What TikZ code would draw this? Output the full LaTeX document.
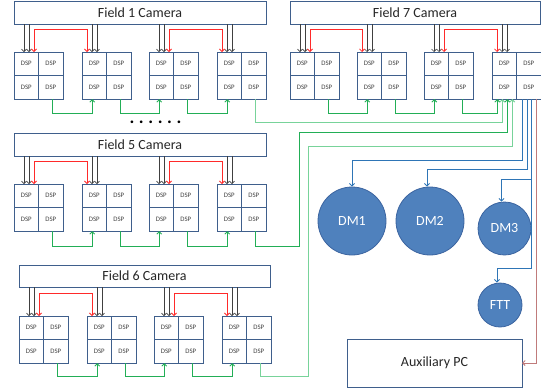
\documentclass[tikz,border=0pt]{standalone}
\usepackage{fontspec}
\setmainfont{Carlito}
\usetikzlibrary{arrows.meta,calc}
\definecolor{cellblue}{HTML}{3F5F8C}
\definecolor{dsptext}{HTML}{404040}
\definecolor{redl}{HTML}{FF2A2A}
\definecolor{greenl}{HTML}{22AE56}
\definecolor{lgreenl}{HTML}{78D39A}
\definecolor{bluel}{HTML}{2E75B6}
\definecolor{brownl}{HTML}{C07B7B}
\definecolor{dmfill}{HTML}{4F81BD}
\definecolor{dmdraw}{HTML}{3B64A0}
\definecolor{blkl}{HTML}{404040}
\newcommand\dspgrp[3]{%
 \node[dsp,anchor=north west] (#1-1) at (#2,#3) {DSP};
 \node[dsp,anchor=north west] (#1-2) at (#2+24.5,#3) {DSP};
 \node[dsp,anchor=north west] (#1-3) at (#2,#3+23.5) {DSP};
 \node[dsp,anchor=north west] (#1-4) at (#2+24.5,#3+23.5) {DSP};
}
\newcommand\camarr[2]{%
 \coordinate (#2-k1) at ([xshift=10pt]#2-1.north west);
 \coordinate (#2-k2) at ([xshift=15pt]#2-1.north west);
 \draw[tip,blkline] (#1.south -| #2-k1) -- (#2-k1);
 \draw[tip,blkline] (#1.south -| #2-k2) -- (#2-k2);
}
\newcommand\redlink[2]{%
 \coordinate (#1-r) at ([xshift=20pt]#1-1.north west);
 \coordinate (#2-r) at ([xshift=5pt]#2-1.north west);
 \draw[redline] (#1-r) -- ([yshift=23pt]#1-r) -| (#2-r);
}
\newcommand\glink[4]{%
 \draw[tip,#4] ([xshift=2pt]#1-4.south) -- ++(0,#3) -| ([xshift=-2pt]#2-3.south);
}
\begin{document}
\begin{tikzpicture}[x=1pt,y=-1pt,
 tip/.style={-{Straight Barb[length=2.5pt,width=5pt]}},
 dsp/.style={draw=cellblue,line width=1pt,minimum width=24.5pt,minimum height=23.5pt,inner sep=0pt,outer sep=0pt,font=\fontsize{6.8}{7}\selectfont,text=dsptext},
 cam/.style={draw=cellblue,line width=0.9pt,fill=white,inner sep=0pt,outer sep=0pt,minimum height=23pt,font=\fontsize{14}{16}\selectfont,text=black!85,anchor=north west},
 blkline/.style={draw=blkl,line width=0.7pt},
 redline/.style={{Straight Barb[length=2.5pt,width=5pt]}-{Straight Barb[length=2.5pt,width=5pt]},draw=redl,line width=0.8pt},
 gline/.style={draw=greenl,line width=0.9pt},
 lgline/.style={draw=lgreenl,line width=0.9pt},
 bline/.style={draw=bluel,line width=0.9pt},
 brline/.style={draw=brownl,line width=1pt},
 dm/.style={circle,fill=dmfill,draw=dmdraw,line width=0.8pt,inner sep=0pt,text=white,font=\fontsize{14}{16}\selectfont},
 ]
\useasboundingbox (0,0) rectangle (541,389);
% cameras
\node[cam,minimum width=252pt] (F1) at (14,1) {Field 1 Camera};
\node[cam,minimum width=250pt] (F7) at (290,1) {Field 7 Camera};
\node[cam,minimum width=252pt] (F5) at (14,133) {Field 5 Camera};
\node[cam,minimum width=251pt,minimum height=22pt] (F6) at (19,265) {Field 6 Camera};
% DSP groups
\dspgrp{a1}{14}{52}\dspgrp{a2}{82}{52}\dspgrp{a3}{149}{52}\dspgrp{a4}{217}{52}
\dspgrp{b1}{290}{52}\dspgrp{b2}{357}{52}\dspgrp{b3}{424}{52}\dspgrp{b4}{492}{52}
\dspgrp{c1}{14}{184}\dspgrp{c2}{82}{184}\dspgrp{c3}{149}{184}\dspgrp{c4}{217}{184}
\dspgrp{d1}{19}{316}\dspgrp{d2}{87}{316}\dspgrp{d3}{154}{316}\dspgrp{d4}{222}{316}
% camera arrows
\foreach \g in {a1,a2,a3,a4}{\camarr{F1}{\g}}
\foreach \g in {b1,b2,b3,b4}{\camarr{F7}{\g}}
\foreach \g in {c1,c2,c3,c4}{\camarr{F5}{\g}}
\foreach \g in {d1,d2,d3,d4}{\camarr{F6}{\g}}
% red links
\redlink{a1}{a2}\redlink{a3}{a4}
\redlink{b1}{b2}\redlink{b3}{b4}
\redlink{c1}{c2}\redlink{c3}{c4}
\redlink{d1}{d2}\redlink{d3}{d4}
% green links
\glink{a1}{a2}{14}{gline}\glink{a2}{a3}{14}{gline}\glink{a3}{a4}{14}{gline}
\glink{b1}{b2}{14}{gline}\glink{b2}{b3}{14}{gline}
\draw[tip,gline] ([xshift=2pt]b3-4.south) -- ++(0,14) -| ([xshift=-7pt]b4-3.south);
\glink{c1}{c2}{15}{gline}\glink{c2}{c3}{15}{gline}\glink{c3}{c4}{15}{gline}
\glink{d1}{d2}{13}{gline}\glink{d2}{d3}{13}{gline}\glink{d3}{d4}{13}{gline}
\draw[tip,lgline] ([xshift=2pt]a4-4.south) -- ++(0,23) -| ([xshift=-2pt]b4-3.south);
\coordinate (bend5) at (299,132);
\coordinate (bend6) at (308,146);
\draw[tip,gline] ([xshift=2pt]c4-4.south) -- ++(0,15) -| (bend5) -| ([xshift=3pt]b4-3.south);
\draw[tip,lgline] ([xshift=2pt]d4-4.south) -- ++(0,13) -| (bend6) -| ([xshift=8pt]b4-3.south);
% dots
\node[font=\fontsize{18}{18}\selectfont\bfseries,inner sep=0pt] (dots) at (155.5,122.5) {.\kern4.6pt.\kern4.6pt.\kern4.6pt.\kern4.6pt.\kern4.6pt.};
% DMs
\node[dm,minimum size=68pt] (DM1) at (352,221) {DM1};
\node[dm,minimum size=68pt] (DM2) at (430,221) {DM2};
\node[dm,minimum size=53pt] (DM3) at (504.5,228.5) {DM3};
\node[dm,minimum size=44pt] (FTT) at (500,305) {FTT};
\node[draw=cellblue,line width=0.9pt,minimum width=175pt,minimum height=48pt,inner sep=0pt,outer sep=0pt,anchor=north west,font=\fontsize{14}{16}\selectfont,text=black!85] (aux) at (347,339) {Auxiliary PC};
% blue links
\draw[tip,bline] ([xshift=-6pt]b4-4.south) -- ++(0,61) -| (DM1.north);
\draw[tip,bline] ([xshift=-1pt]b4-4.south) -- ++(0,70) -| ([xshift=-3pt]DM2.north);
\draw[tip,bline] ([xshift=3pt]b4-4.south) -- ++(0,80) -| ([xshift=-3pt]DM3.north);
\draw[tip,bline] ([xshift=3pt]b4-4.south) -- ++(0,169) -| ([xshift=-3pt]FTT.north);
\draw[tip,brline] ([xshift=8pt]b4-4.south) |- (aux.east);
\end{tikzpicture}
\end{document}
